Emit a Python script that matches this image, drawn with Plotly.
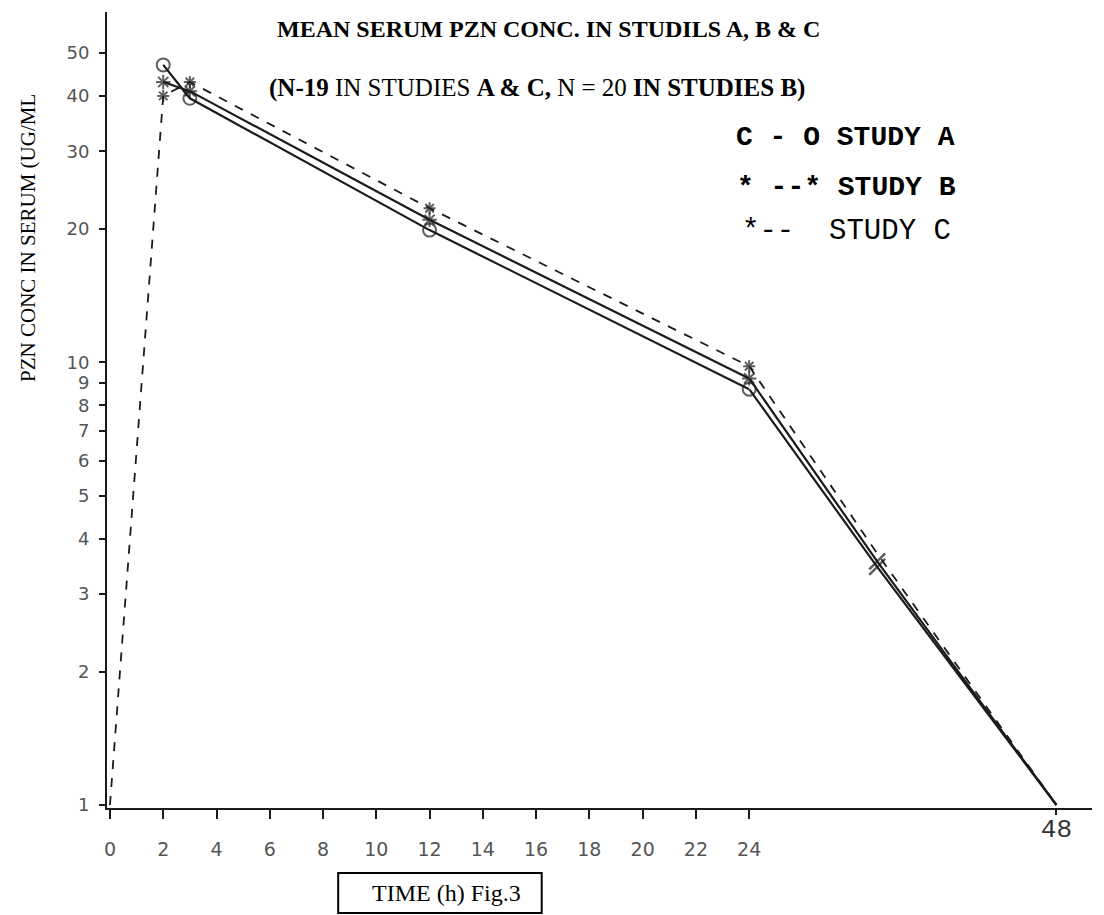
import plotly.graph_objects as go

# ---- data ----
hours_a = [2, 3, 12, 24, 34, 48]
conc_a = [47, 39.5, 19.9, 8.7, 3.45, 1.0]
hours_b = [2, 3, 12, 24, 34, 48]
conc_b = [43, 41, 21.0, 9.2, 3.55, 1.0]
hours_c = [0, 2, 3, 12, 24, 34, 48]
conc_c = [1.0, 40, 43, 22.3, 9.8, 3.7, 1.0]

y_ticks = [1, 2, 3, 4, 5, 6, 7, 8, 9, 10, 20, 30, 40, 50]
x_ticks_early = [0, 2, 4, 6, 8, 10, 12, 14, 16, 18, 20, 22, 24]
x_ticks_late = [48]
axis_break = 24

title_text = "<b>MEAN SERUM PZN CONC. IN STUDILS A, B &amp; C</b>"
subtitle_text = "<b>(N-19</b> IN STUDIES <b>A &amp; C,</b> N = 20 <b>IN STUDIES B)</b>"
legend_lines = ["<b>C - O STUDY A</b>", "<b>* --* STUDY B</b>", "*--  STUDY C"]
y_title = "PZN CONC IN SERUM (UG/ML"
x_title = "TIME (h) Fig.3"

# ---- layout geometry (pixels of the 1104x915 page) ----
W, H = 1104, 915
L, R, T, B = 107, 1104, 12, 808


def px(p):
    return (p - L) / (R - L)


def py(p):
    return (B - p) / (B - T)


INK = "#1b1b1b"
GREY = "#555555"
SERIF = "Times New Roman, Liberation Serif, serif"
MONO = "Courier New, Liberation Mono, monospace"
SANS = "DejaVu Sans, Liberation Sans, sans-serif"

split_px = 757
x1_dom = [0, px(split_px)]
x2_dom = [px(split_px), 1]
x1_range = [-(110 - L) / ((split_px - 110) / 24), 24]
x2_scale = (1068 - split_px) / 24
x2_range = [24, 24 + (R - split_px) / x2_scale]

y_px_per_dec = (805 - 53) / 1.69897
y_range = [-(B - 805) / y_px_per_dec, 1.69897 + (53 - T) / y_px_per_dec]


def split(h, c):
    early = [(a, b) for a, b in zip(h, c) if a <= axis_break]
    late = [(a, b) for a, b in zip(h, c) if a >= axis_break]
    return ([p[0] for p in early], [p[1] for p in early],
            [p[0] for p in late], [p[1] for p in late])


fig = go.Figure()

studies = [
    ("Study A", hours_a, conc_a, "solid", 2.2, "circle-open", 13, True),
    ("Study B", hours_b, conc_b, "solid", 2.2, "asterisk-open", 12, True),
    ("Study C", hours_c, conc_c, "dash", 1.8, "asterisk-open", 10, False),
]

for name, h, c, dash, lw, sym, msize, cross in studies:
    eh, ec, lh, lc = split(h, c)
    fig.add_trace(go.Scatter(
        x=eh, y=ec, xaxis="x", yaxis="y", mode="lines+markers", name=name,
        line=dict(color=INK, width=lw, dash=dash),
        marker=dict(symbol=sym, size=[0 if v == 0 else msize for v in eh],
                    color=INK, line=dict(color=INK, width=2)),
        cliponaxis=False, showlegend=False))
    fig.add_trace(go.Scatter(
        x=lh, y=lc, xaxis="x2", yaxis="y", mode="lines+markers", name=name,
        line=dict(color=INK, width=lw, dash=dash),
        marker=dict(symbol="line-ne-open",
                    size=[16 if (cross and v not in (axis_break, 48)) else 0 for v in lh],
                    color=INK, line=dict(color=INK, width=2.5)),
        cliponaxis=False, showlegend=False))

axis_common = dict(showline=True, linecolor=INK, linewidth=2, showgrid=False,
                   zeroline=False, ticks="outside", tickcolor=INK)

fig.update_layout(
    width=W, height=H, autosize=False,
    margin=dict(l=L, r=W - R, t=T, b=H - B, pad=0),
    paper_bgcolor="white", plot_bgcolor="white",
    showlegend=False,
    xaxis=dict(domain=x1_dom, range=x1_range, anchor="y",
               tickvals=x_ticks_early, ticktext=[str(v) for v in x_ticks_early],
               ticklen=9, tickwidth=1.5, ticklabelstandoff=14,
               tickfont=dict(family=SANS, size=19, color=GREY), **axis_common),
    xaxis2=dict(domain=x2_dom, range=x2_range, anchor="y",
                tickvals=x_ticks_late, ticktext=[str(v) for v in x_ticks_late],
                ticklen=5, tickwidth=1.5, ticklabelstandoff=-9,
                tickfont=dict(family=MONO, size=26, color="#333333"), **axis_common),
    yaxis=dict(type="log", range=y_range, anchor="x",
               tickvals=y_ticks, ticktext=[str(v) for v in y_ticks],
               ticklen=6, tickwidth=1.5, ticklabelstandoff=6,
               tickfont=dict(family=SANS, size=18, color=GREY), **axis_common),
)

ann = []
ann.append(dict(text=title_text, x=px(554), y=py(29), xref="paper", yref="paper",
                showarrow=False, xanchor="center", yanchor="middle",
                font=dict(family=SERIF, size=24, color="black")))
ann.append(dict(text=subtitle_text, x=px(542), y=py(88), xref="paper", yref="paper",
                showarrow=False, xanchor="center", yanchor="middle",
                font=dict(family=SERIF, size=25, color="black")))
for txt, lx, ly, fs in zip(legend_lines, [742, 743, 748], [137, 188, 232], [28, 28, 29]):
    ann.append(dict(text=txt, x=px(lx), y=py(ly), xref="paper", yref="paper",
                    showarrow=False, xanchor="left", yanchor="middle",
                    font=dict(family=MONO, size=fs, color="black")))
ann.append(dict(text=y_title, x=px(27), y=py(238), xref="paper", yref="paper",
                showarrow=False, xanchor="center", yanchor="middle", textangle=-90,
                font=dict(family=SERIF, size=21, color="black")))
ann.append(dict(text=x_title, x=px(451), y=py(893), xref="paper", yref="paper",
                showarrow=False, xanchor="center", yanchor="middle",
                font=dict(family=SERIF, size=24, color="black")))
fig.update_layout(annotations=ann)

fig.add_shape(type="rect", xref="paper", yref="paper",
              x0=px(341), x1=px(547), y0=py(913), y1=py(873),
              line=dict(color="black", width=2), fillcolor="rgba(0,0,0,0)")

fig.write_html("out.html", include_plotlyjs=True, full_html=True,
               config={"displayModeBar": False},
               post_script="document.body.style.margin='0';")
